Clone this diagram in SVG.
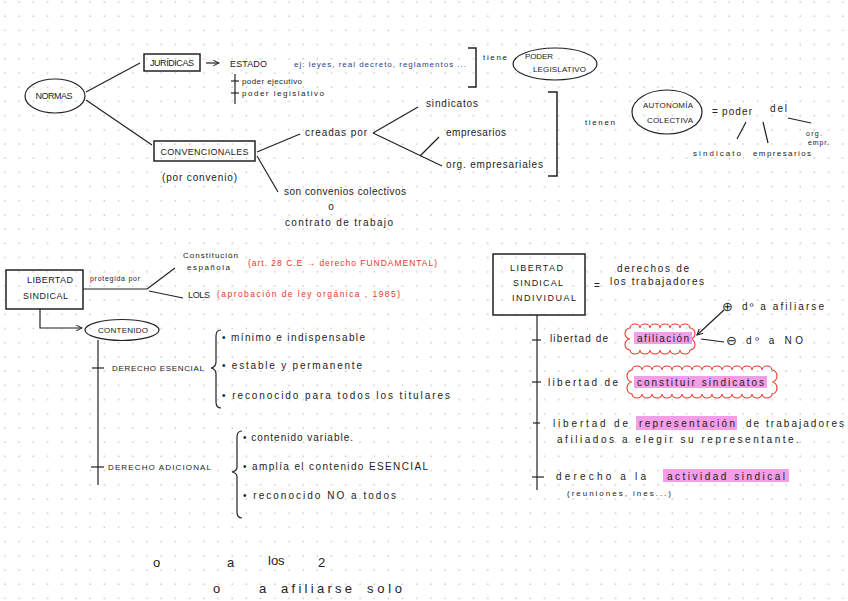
<svg xmlns="http://www.w3.org/2000/svg" width="848" height="601" viewBox="0 0 848 601">
<style>
.t{font-family:"Liberation Sans",Arial,sans-serif;font-size:10px;fill:#222}
.s{font-size:8px}
.cap{font-size:9px}
.big{font-size:13px}
.r{fill:#e8352b}
.b{fill:#2a3f8f}
.m{text-anchor:middle}
.ln{stroke:#222;stroke-width:1.2;fill:none}
.bx{stroke:#222;stroke-width:1.5;fill:none}
.cl{stroke:#e8352b;stroke-width:1.1;fill:none}
.hl{fill:#f49ee8}
</style>
<defs>
<pattern id="dots" patternUnits="userSpaceOnUse" x="0" y="0" width="14.2" height="14.2">
<circle cx="5" cy="2" r="0.9" fill="#c8c8c8"/>
</pattern>
<marker id="ah" viewBox="0 0 10 10" refX="9" refY="5" markerWidth="6" markerHeight="6" orient="auto">
<path d="M1,1 L9,5 L1,9" fill="none" stroke="#222" stroke-width="1.5"/>
</marker>
</defs>
<rect width="848" height="601" fill="#ffffff"/>
<rect width="848" height="601" fill="url(#dots)"/>

<g id="connectors">
<line class="ln" x1="86" y1="92" x2="140" y2="63"/>
<line class="ln" x1="86" y1="100" x2="152" y2="145"/>
<line class="ln" x1="206" y1="63" x2="219" y2="63" marker-end="url(#ah)"/>
<line class="ln" x1="235" y1="74" x2="235" y2="104"/>
<line class="ln" x1="231" y1="81" x2="239" y2="81"/>
<line class="ln" x1="231" y1="93" x2="239" y2="93"/>
<path class="bx" d="M468,48 H476 V87 H468"/>
<line class="ln" x1="257" y1="152" x2="300" y2="134"/>
<line class="ln" x1="373" y1="133" x2="418" y2="107"/>
<line class="ln" x1="373" y1="133" x2="442" y2="166"/>
<line class="ln" x1="420" y1="156" x2="439" y2="137"/>
<line class="ln" x1="257" y1="156" x2="278" y2="192"/>
<path class="bx" d="M548,92 H557 V176 H548"/>
<line class="ln" x1="746" y1="122" x2="737" y2="139"/>
<line class="ln" x1="763" y1="122" x2="768" y2="143"/>
<line class="ln" x1="788" y1="118" x2="811" y2="123"/>
<line class="ln" x1="83" y1="289" x2="147" y2="289"/>
<line class="ln" x1="147" y1="289" x2="175" y2="268"/>
<line class="ln" x1="149" y1="291" x2="183" y2="298"/>
<path class="ln" d="M40,309 V328 H82" marker-end="url(#ah)"/>
<line class="ln" x1="98" y1="340" x2="98" y2="485" stroke-width="1.5"/>
<line class="ln" x1="92" y1="368" x2="104" y2="368"/>
<line class="ln" x1="91" y1="467" x2="104" y2="467"/>
<path class="ln" d="M221,330 Q216,330 216,336 V362 Q216,367 211,368 Q216,369 216,374 V402 Q216,408 221,408"/>
<path class="ln" d="M242,431 Q237,431 237,437 V467 Q237,471 232,472 Q237,473 237,477 V512 Q237,518 242,518"/>
<line class="ln" x1="537" y1="315" x2="537" y2="490" stroke-width="1.5"/>
<line class="ln" x1="532" y1="340" x2="541" y2="340"/>
<line class="ln" x1="532" y1="382" x2="541" y2="382"/>
<line class="ln" x1="533" y1="423" x2="540" y2="423"/>
<line class="ln" x1="532" y1="477" x2="544" y2="477"/>
<line class="ln" x1="724" y1="310" x2="697" y2="335" marker-end="url(#ah)"/>
<line class="ln" x1="701" y1="339" x2="724" y2="342"/>
</g>

<g id="normas">
<ellipse class="ln" cx="55" cy="96" rx="30" ry="17" stroke-width="1.3"/>
<text class="t cap m" x="54" y="99" textLength="37" lengthAdjust="spacing">NORMAS</text>
</g>
<g id="juridicas">
<rect class="bx" x="144" y="54" width="56" height="17"/>
<text class="t cap m" x="172" y="66" textLength="44" lengthAdjust="spacing">JURÍDICAS</text>
</g>
<g id="estado">
<text class="t cap" x="230" y="67" textLength="37" lengthAdjust="spacing">ESTADO</text>
<text class="t s" x="242" y="84" textLength="60" lengthAdjust="spacing">poder ejecutivo</text>
<text class="t s" x="242" y="96" textLength="82" lengthAdjust="spacing">poder legislativo</text>
<text class="t b s" x="294" y="67" textLength="172" lengthAdjust="spacing">ej: leyes, real decreto, reglamentos ...</text>
<text class="t s" x="483" y="60" textLength="24" lengthAdjust="spacing">tiene</text>
</g>
<g id="poder-legislativo">
<ellipse class="ln" cx="555" cy="64" rx="42" ry="16"/>
<text class="t s" x="525" y="59" textLength="28" lengthAdjust="spacing">PODER</text>
<text class="t s" x="533" y="72" textLength="53" lengthAdjust="spacing">LEGISLATIVO</text>
</g>
<g id="convencionales">
<rect class="bx" x="154" y="141" width="101" height="20"/>
<text class="t cap m" x="204.5" y="155" textLength="88" lengthAdjust="spacing">CONVENCIONALES</text>
<text class="t" x="162" y="181" textLength="75" lengthAdjust="spacing">(por convenio)</text>
</g>
<g id="creadas">
<text class="t" x="305" y="136" textLength="62" lengthAdjust="spacing">creadas por</text>
<text class="t" x="426" y="107" textLength="52" lengthAdjust="spacing">sindicatos</text>
<text class="t" x="446" y="136" textLength="60" lengthAdjust="spacing">empresarios</text>
<text class="t" x="446" y="168" textLength="97" lengthAdjust="spacing">org. empresariales</text>
</g>
<g id="convenios">
<text class="t" x="284" y="195" textLength="122" lengthAdjust="spacing">son convenios colectivos</text>
<text class="t m" x="331" y="210">o</text>
<text class="t" x="285" y="226" textLength="108" lengthAdjust="spacing">contrato de trabajo</text>
</g>
<g id="autonomia">
<text class="t s" x="585" y="125" textLength="30" lengthAdjust="spacing">tienen</text>
<ellipse class="ln" cx="667" cy="112" rx="35" ry="22"/>
<text class="t s m" x="668" y="108" textLength="50" lengthAdjust="spacing">AUTONOMÍA</text>
<text class="t s m" x="670" y="123" textLength="46" lengthAdjust="spacing">COLECTIVA</text>
<text class="t" x="712" y="115">=</text>
<text class="t" x="722" y="115" textLength="30" lengthAdjust="spacing">poder</text>
<text class="t" x="770" y="112" textLength="17" lengthAdjust="spacing">del</text>
<text class="t s" x="693" y="156" textLength="48" lengthAdjust="spacing">sindicato</text>
<text class="t s" x="753" y="156" textLength="58" lengthAdjust="spacing">empresarios</text>
<text class="t" x="806" y="136" style="font-size:7px" textLength="16" lengthAdjust="spacing">org.</text>
<text class="t" x="808" y="145" style="font-size:7px" textLength="21" lengthAdjust="spacing">empr.</text>
</g>

<g id="libertad-sindical">
<rect class="bx" x="6" y="270" width="77" height="39"/>
<text class="t cap" x="27" y="283" textLength="46" lengthAdjust="spacing">LIBERTAD</text>
<text class="t cap" x="23" y="299" textLength="45" lengthAdjust="spacing">SINDICAL</text>
<text class="t" x="90" y="281" style="font-size:7px" textLength="50" lengthAdjust="spacing">protegida por</text>
</g>
<g id="constitucion">
<text class="t s" x="183" y="258" textLength="55" lengthAdjust="spacing">Constitución</text>
<text class="t s" x="187" y="270" textLength="43" lengthAdjust="spacing">española</text>
<text class="t r" x="248" y="266" style="font-size:8.5px" textLength="189" lengthAdjust="spacing">(art. 28 C.E → derecho FUNDAMENTAL)</text>
<text class="t cap" x="188" y="298" textLength="22" lengthAdjust="spacing">LOLS</text>
<text class="t r" x="217" y="297" style="font-size:8.5px" textLength="183" lengthAdjust="spacing">(aprobación de ley orgánica , 1985)</text>
</g>
<g id="contenido">
<ellipse class="ln" cx="122" cy="330" rx="37" ry="10.5" stroke-width="1.3"/>
<text class="t s m" x="123" y="333" textLength="50" lengthAdjust="spacing">CONTENIDO</text>
</g>
<g id="derecho-esencial">
<text class="t s" x="112" y="371" textLength="92" lengthAdjust="spacing">DERECHO ESENCIAL</text>
<text class="t" x="222" y="341" textLength="143" lengthAdjust="spacing">• mínimo e indispensable</text>
<text class="t" x="222" y="369" textLength="140" lengthAdjust="spacing">• estable y permanente</text>
<text class="t" x="222" y="399" textLength="228" lengthAdjust="spacing">• reconocido para todos los titulares</text>
</g>
<g id="derecho-adicional">
<text class="t s" x="108" y="470" textLength="103" lengthAdjust="spacing">DERECHO ADICIONAL</text>
<text class="t" x="243" y="441" textLength="110" lengthAdjust="spacing">• contenido variable.</text>
<text class="t" x="243" y="470" textLength="185" lengthAdjust="spacing">• amplía el contenido ESENCIAL</text>
<text class="t" x="243" y="499" textLength="153" lengthAdjust="spacing">• reconocido NO a todos</text>
</g>

<g id="libertad-individual">
<rect class="bx" x="493" y="254" width="92" height="61"/>
<text class="t cap" x="510" y="271" textLength="53" lengthAdjust="spacing">LIBERTAD</text>
<text class="t cap" x="513" y="286" textLength="50" lengthAdjust="spacing">SINDICAL</text>
<text class="t cap" x="512" y="301" textLength="64" lengthAdjust="spacing">INDIVIDUAL</text>
<text class="t" x="594" y="289">=</text>
<text class="t" x="617" y="272" textLength="72" lengthAdjust="spacing">derechos de</text>
<text class="t" x="610" y="285" textLength="94" lengthAdjust="spacing">los trabajadores</text>
</g>
<g id="afiliacion">
<text class="t" x="550" y="342" textLength="58" lengthAdjust="spacing">libertad de</text>
<path class="cl" d="M630,328 a5,4 0 0,1 10,0 a5,4 0 0,1 10,0 a5,4 0 0,1 10,0 a5,4 0 0,1 10,0 a5,4 0 0,1 10,0 a5,4 0 0,1 10,0 a5,5.5 0 0,1 0,11 a5,5.5 0 0,1 0,11 a5,4 0 0,1 -10,0 a5,4 0 0,1 -10,0 a5,4 0 0,1 -10,0 a5,4 0 0,1 -10,0 a5,4 0 0,1 -10,0 a5,4 0 0,1 -10,0 a5,5.5 0 0,1 0,-11 a5,5.5 0 0,1 0,-11 z"/>
<rect class="hl" x="634" y="332" width="58" height="12"/>
<text class="t" x="637" y="342" textLength="52" lengthAdjust="spacing">afiliación</text>
<text class="t" x="722" y="311" style="font-family:'DejaVu Sans',sans-serif;font-size:13px">⊕</text>
<text class="t" x="742" y="310" textLength="82" lengthAdjust="spacing">dº a afiliarse</text>
<text class="t" x="726" y="345" style="font-family:'DejaVu Sans',sans-serif;font-size:13px">⊖</text>
<text class="t" x="746" y="344" textLength="57" lengthAdjust="spacing">dº a NO</text>
</g>
<g id="constituir">
<text class="t" x="548" y="386" textLength="70" lengthAdjust="spacing">libertad de</text>
<path class="cl" d="M632,370 a5,4 0 0,1 10,0 a5,4 0 0,1 10,0 a5,4 0 0,1 10,0 a5,4 0 0,1 10,0 a5,4 0 0,1 10,0 a5,4 0 0,1 10,0 a5,4 0 0,1 10,0 a5,4 0 0,1 10,0 a5,4 0 0,1 10,0 a5,4 0 0,1 10,0 a5,4 0 0,1 10,0 a5,4 0 0,1 10,0 a5,4 0 0,1 10,0 a5,4 0 0,1 10,0 a5,6 0 0,1 0,12 a5,6 0 0,1 0,12 a5,4 0 0,1 -10,0 a5,4 0 0,1 -10,0 a5,4 0 0,1 -10,0 a5,4 0 0,1 -10,0 a5,4 0 0,1 -10,0 a5,4 0 0,1 -10,0 a5,4 0 0,1 -10,0 a5,4 0 0,1 -10,0 a5,4 0 0,1 -10,0 a5,4 0 0,1 -10,0 a5,4 0 0,1 -10,0 a5,4 0 0,1 -10,0 a5,4 0 0,1 -10,0 a5,4 0 0,1 -10,0 a5,6 0 0,1 0,-12 a5,6 0 0,1 0,-12 z"/>
<rect class="hl" x="634" y="376" width="133" height="12"/>
<text class="t" x="637" y="386" textLength="127" lengthAdjust="spacing">constituir sindicatos</text>
</g>
<g id="representacion">
<text class="t" x="553" y="427" textLength="75" lengthAdjust="spacing">libertad de</text>
<rect class="hl" x="636" y="416" width="101" height="14"/>
<text class="t" x="639" y="427" textLength="96" lengthAdjust="spacing">representación</text>
<text class="t" x="746" y="427" textLength="98" lengthAdjust="spacing">de trabajadores</text>
<text class="t" x="557" y="443" textLength="242" lengthAdjust="spacing">afiliados a elegir su representante.</text>
</g>
<g id="actividad">
<text class="t" x="556" y="480" textLength="90" lengthAdjust="spacing">derecho a la</text>
<rect class="hl" x="663" y="469" width="126" height="13"/>
<text class="t" x="667" y="480" textLength="118" lengthAdjust="spacing">actividad sindical</text>
<text class="t s" x="567" y="496" textLength="104" lengthAdjust="spacing">(reuniones, ines...)</text>
</g>

<g id="notas">
<text class="t big" x="153" y="567">o</text>
<text class="t big" x="227" y="567">a</text>
<text class="t big" x="268" y="565">los</text>
<text class="t big" x="318" y="567">2</text>
<text class="t big" x="213" y="593">o</text>
<text class="t big" x="259" y="593">a</text>
<text class="t big" x="281" y="593" textLength="71" lengthAdjust="spacing">afiliarse</text>
<text class="t big" x="367" y="593" textLength="35" lengthAdjust="spacing">solo</text>
</g>
</svg>
